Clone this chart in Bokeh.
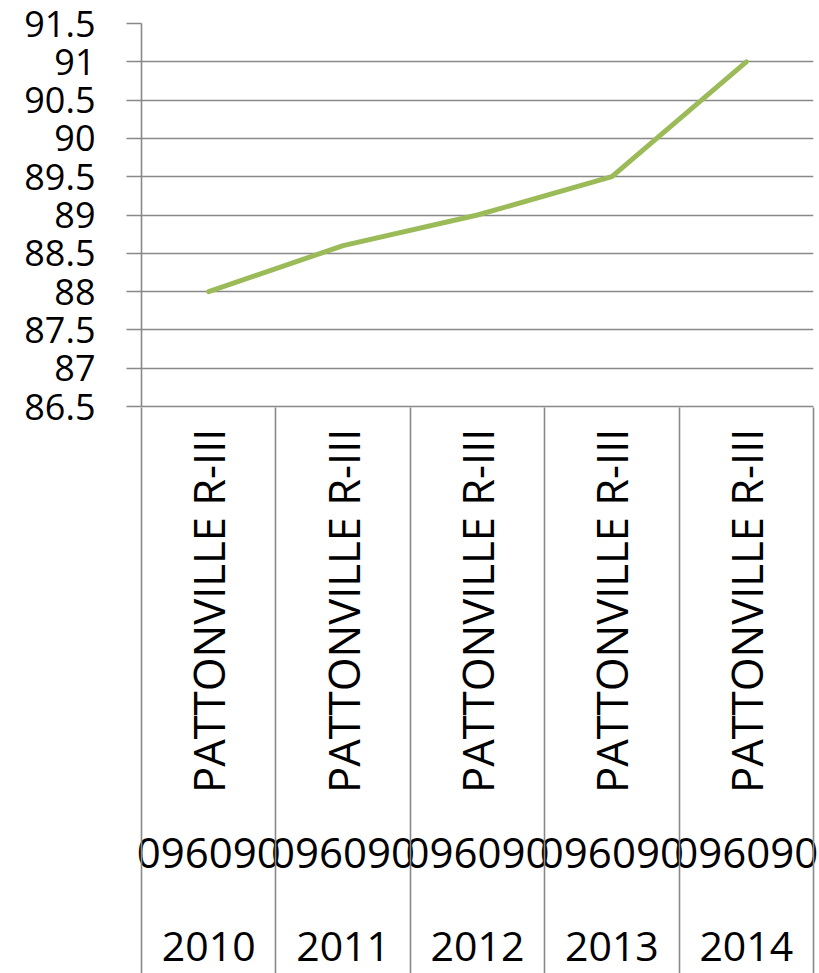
import math
from bokeh.plotting import figure
from bokeh.models import Range1d, LinearAxis, FixedTicker, NumeralTickFormatter
from bokeh.embed import file_html
from bokeh.resources import INLINE

# ---- data ----
years = ["2010", "2011", "2012", "2013", "2014"]
codes = ["096090", "096090", "096090", "096090", "096090"]
names = ["PATTONVILLE R-III", "PATTONVILLE R-III", "PATTONVILLE R-III",
         "PATTONVILLE R-III", "PATTONVILLE R-III"]
values = [88.0, 88.6, 89.0, 89.5, 91.0]
y_ticks = [86.5, 87.0, 87.5, 88.0, 88.5, 89.0, 89.5, 90.0, 90.5, 91.0, 91.5]

# ---- styling ----
FONT = "Open Sans"
GRID = "#898989"
GREEN = "#9BBB59"
BOTTOM = 566
SEP_IN = 556
SEP_OUT = 10

idx = list(range(len(years)))
bounds = [i - 0.5 for i in idx] + [idx[-1] + 0.5]

p = figure(width=819, height=973, output_backend="svg", toolbar_location=None,
           x_range=Range1d(bounds[0], bounds[-1]),
           y_range=Range1d(y_ticks[0], y_ticks[-1]),
           x_axis_type=None,
           min_border_left=141, min_border_right=6, min_border_top=23,
           min_border_bottom=BOTTOM)
p.outline_line_color = None
p.background_fill_color = "white"
p.border_fill_color = "white"

# y axis
yt = FixedTicker(ticks=y_ticks, minor_ticks=[])
ya = p.yaxis[0]
ya.ticker = yt
ya.formatter = NumeralTickFormatter(format="0.[0]")
ya.major_tick_out = 15
ya.major_tick_in = 0
ya.minor_tick_line_color = None
ya.major_tick_line_color = GRID
ya.major_tick_line_width = 1.6
ya.axis_line_color = GRID
ya.axis_line_width = 1.6
ya.major_label_text_font = FONT
ya.major_label_text_font_size = "36px"
ya.major_label_text_color = "black"
ya.major_label_standoff = 31

p.ygrid.ticker = yt
p.ygrid.grid_line_color = GRID
p.ygrid.grid_line_width = 1.6
p.xgrid.visible = False


def label_axis(labels, size, standoff, orientation="horizontal", line=None):
    return LinearAxis(ticker=FixedTicker(ticks=idx, minor_ticks=[]),
                      major_label_overrides={i: t for i, t in zip(idx, labels)},
                      major_label_orientation=orientation,
                      major_tick_out=0, major_tick_in=0,
                      major_tick_line_color=None, minor_tick_line_color=None,
                      axis_line_color=line, axis_line_width=1.6,
                      major_label_standoff=standoff,
                      major_label_text_font=FONT,
                      major_label_text_font_size=size,
                      major_label_text_color="black")


p.add_layout(label_axis(names, "43.5px", 22, math.pi / 2, GRID), "below")
p.add_layout(label_axis(codes, "42px", 42), "below")
p.add_layout(label_axis(years, "41px", 61), "below")

# separators between categories: minor ticks of an outermost, label-less axis
sep = LinearAxis(ticker=FixedTicker(ticks=[], minor_ticks=bounds),
                 major_tick_out=0, major_tick_in=0,
                 minor_tick_in=SEP_IN, minor_tick_out=SEP_OUT,
                 minor_tick_line_color=GRID, minor_tick_line_width=1.6,
                 axis_line_color=None, major_label_standoff=0)
p.add_layout(sep, "below")

p.line(x=idx, y=values, line_color=GREEN, line_width=5,
       line_cap="round", line_join="round")

open("out.html", "w").write(file_html(p, INLINE))
